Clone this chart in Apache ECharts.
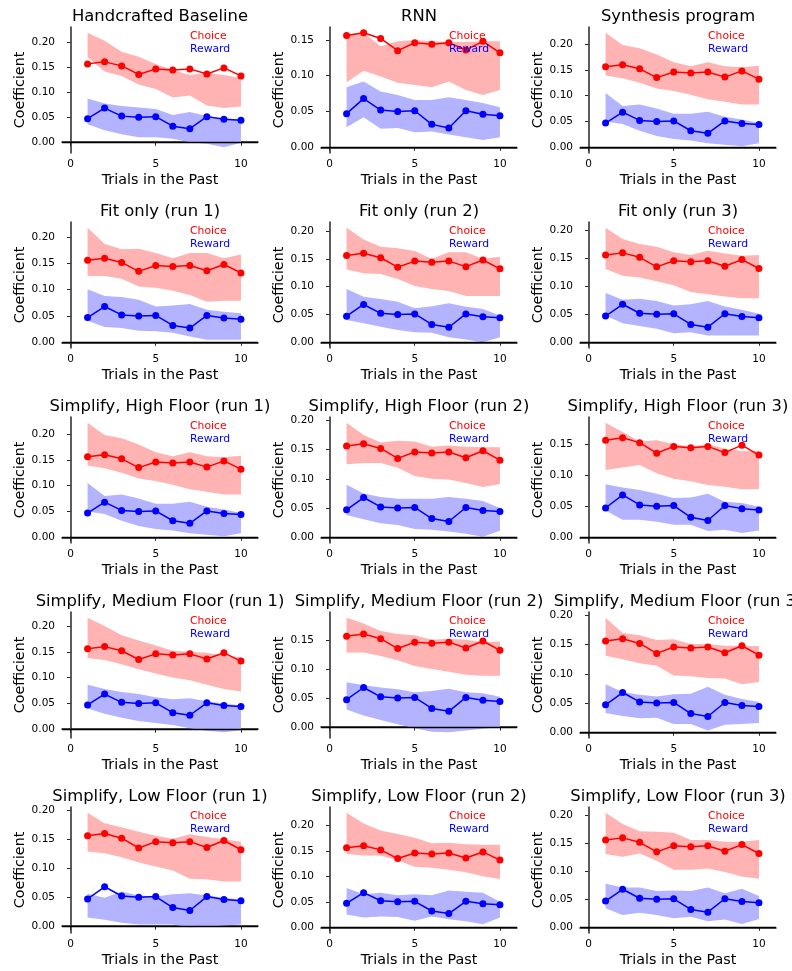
<!DOCTYPE html>
<html>
<head>
<meta charset="utf-8">
<script src="https://cdn.jsdelivr.net/npm/echarts@6.0.0/dist/echarts.min.js"></script>
<style>
  html, body { margin: 0; padding: 0; background: #fff; }
  #chart { width: 792px; height: 971px; }
</style>
</head>
<body>
<div id="chart"></div>
<script>
// x positions (trials in the past)
var trials = [1, 2, 3, 4, 5, 6, 7, 8, 9, 10];

// mean coefficients, same in every panel
var choiceMean = [0.156, 0.160, 0.152, 0.135, 0.146, 0.144, 0.146, 0.136, 0.148, 0.132];
var rewardMean = [0.047, 0.068, 0.052, 0.050, 0.051, 0.032, 0.027, 0.051, 0.046, 0.044];

var panelTitles = [
  'Handcrafted Baseline', 'RNN', 'Synthesis program',
  'Fit only (run 1)', 'Fit only (run 2)', 'Fit only (run 3)',
  'Simplify, High Floor (run 1)', 'Simplify, High Floor (run 2)', 'Simplify, High Floor (run 3)',
  'Simplify, Medium Floor (run 1)', 'Simplify, Medium Floor (run 2)', 'Simplify, Medium Floor (run 3)',
  'Simplify, Low Floor (run 1)', 'Simplify, Low Floor (run 2)', 'Simplify, Low Floor (run 3)'
];

var yTickValues = [0, 0.05, 0.10, 0.15, 0.20];
var xTickValues = [0, 5, 10];

// band edges, one row per panel (same order as panelTitles)
var choiceHi = [
  [0.218, 0.202, 0.180, 0.170, 0.156, 0.144, 0.134, 0.138, 0.134, 0.128],
  [0.158, 0.160, 0.141, 0.148, 0.150, 0.148, 0.147, 0.147, 0.148, 0.148],
  [0.222, 0.198, 0.192, 0.180, 0.165, 0.157, 0.165, 0.157, 0.155, 0.158],
  [0.218, 0.187, 0.177, 0.178, 0.170, 0.160, 0.170, 0.170, 0.160, 0.167],
  [0.206, 0.185, 0.172, 0.169, 0.164, 0.150, 0.162, 0.162, 0.150, 0.154],
  [0.205, 0.185, 0.176, 0.171, 0.161, 0.156, 0.164, 0.159, 0.155, 0.156],
  [0.222, 0.198, 0.192, 0.180, 0.165, 0.157, 0.165, 0.157, 0.155, 0.158],
  [0.196, 0.175, 0.162, 0.165, 0.164, 0.155, 0.157, 0.155, 0.154, 0.154],
  [0.184, 0.169, 0.154, 0.156, 0.150, 0.146, 0.150, 0.142, 0.138, 0.139],
  [0.216, 0.200, 0.182, 0.172, 0.162, 0.152, 0.150, 0.148, 0.142, 0.140],
  [0.188, 0.178, 0.165, 0.160, 0.158, 0.150, 0.152, 0.150, 0.146, 0.147],
  [0.196, 0.170, 0.166, 0.158, 0.159, 0.151, 0.151, 0.148, 0.148, 0.147],
  [0.196, 0.178, 0.171, 0.163, 0.156, 0.151, 0.159, 0.154, 0.150, 0.146],
  [0.225, 0.204, 0.190, 0.183, 0.176, 0.165, 0.166, 0.163, 0.162, 0.162],
  [0.205, 0.185, 0.172, 0.171, 0.169, 0.156, 0.156, 0.153, 0.153, 0.156]
];
var choiceLo = [
  [0.169, 0.141, 0.132, 0.115, 0.106, 0.089, 0.093, 0.073, 0.068, 0.071],
  [0.091, 0.107, 0.099, 0.090, 0.087, 0.084, 0.092, 0.080, 0.073, 0.080],
  [0.139, 0.134, 0.125, 0.114, 0.109, 0.102, 0.093, 0.088, 0.083, 0.083],
  [0.126, 0.126, 0.121, 0.106, 0.104, 0.098, 0.090, 0.077, 0.079, 0.079],
  [0.131, 0.124, 0.123, 0.114, 0.101, 0.096, 0.092, 0.083, 0.083, 0.083],
  [0.131, 0.119, 0.116, 0.109, 0.102, 0.090, 0.086, 0.082, 0.079, 0.079],
  [0.139, 0.134, 0.125, 0.114, 0.109, 0.102, 0.093, 0.088, 0.083, 0.083],
  [0.125, 0.127, 0.127, 0.119, 0.105, 0.100, 0.099, 0.093, 0.086, 0.091],
  [0.108, 0.112, 0.116, 0.103, 0.094, 0.090, 0.084, 0.081, 0.077, 0.077],
  [0.138, 0.134, 0.126, 0.116, 0.108, 0.100, 0.095, 0.086, 0.078, 0.073],
  [0.128, 0.128, 0.122, 0.115, 0.105, 0.100, 0.095, 0.090, 0.088, 0.088],
  [0.131, 0.125, 0.118, 0.114, 0.097, 0.096, 0.093, 0.092, 0.082, 0.086],
  [0.129, 0.126, 0.119, 0.110, 0.103, 0.096, 0.082, 0.081, 0.077, 0.077],
  [0.144, 0.141, 0.141, 0.131, 0.119, 0.117, 0.113, 0.108, 0.100, 0.095],
  [0.131, 0.126, 0.132, 0.119, 0.103, 0.103, 0.105, 0.099, 0.091, 0.087]
];
var rewardHi = [
  [0.087, 0.077, 0.072, 0.069, 0.066, 0.054, 0.060, 0.052, 0.048, 0.045],
  [0.084, 0.092, 0.078, 0.073, 0.066, 0.066, 0.070, 0.066, 0.062, 0.056],
  [0.105, 0.080, 0.083, 0.075, 0.065, 0.065, 0.069, 0.059, 0.054, 0.047],
  [0.101, 0.088, 0.086, 0.081, 0.068, 0.070, 0.073, 0.062, 0.058, 0.055],
  [0.096, 0.082, 0.078, 0.073, 0.061, 0.065, 0.070, 0.064, 0.060, 0.048],
  [0.088, 0.076, 0.078, 0.074, 0.066, 0.068, 0.074, 0.064, 0.058, 0.051],
  [0.105, 0.080, 0.083, 0.075, 0.065, 0.065, 0.069, 0.059, 0.054, 0.047],
  [0.090, 0.075, 0.069, 0.066, 0.066, 0.066, 0.069, 0.066, 0.062, 0.050],
  [0.085, 0.080, 0.076, 0.070, 0.063, 0.064, 0.070, 0.057, 0.055, 0.049],
  [0.086, 0.078, 0.072, 0.068, 0.062, 0.058, 0.060, 0.054, 0.050, 0.046],
  [0.077, 0.072, 0.068, 0.065, 0.060, 0.062, 0.066, 0.060, 0.058, 0.052],
  [0.082, 0.069, 0.064, 0.061, 0.065, 0.066, 0.078, 0.064, 0.057, 0.052],
  [0.056, 0.049, 0.060, 0.053, 0.051, 0.055, 0.057, 0.053, 0.049, 0.046],
  [0.077, 0.065, 0.068, 0.063, 0.065, 0.063, 0.072, 0.070, 0.068, 0.050],
  [0.078, 0.071, 0.071, 0.065, 0.066, 0.065, 0.071, 0.061, 0.069, 0.056]
];
var rewardLo = [
  [0.036, 0.024, 0.016, 0.010, 0.010, 0.007, 0.000, -0.003, -0.010, -0.001],
  [0.028, 0.042, 0.026, 0.027, 0.021, 0.022, 0.018, 0.014, 0.010, 0.014],
  [0.050, 0.045, 0.032, 0.022, 0.016, 0.013, 0.008, 0.005, 0.002, 0.008],
  [0.041, 0.029, 0.027, 0.022, 0.021, 0.018, 0.011, 0.005, 0.005, 0.005],
  [0.040, 0.034, 0.028, 0.022, 0.018, 0.017, 0.009, 0.005, 0.000, 0.009],
  [0.048, 0.034, 0.029, 0.024, 0.016, 0.018, 0.012, 0.012, 0.012, 0.012],
  [0.050, 0.045, 0.032, 0.022, 0.016, 0.013, 0.008, 0.005, 0.002, 0.008],
  [0.038, 0.031, 0.024, 0.021, 0.014, 0.013, 0.010, 0.006, 0.001, 0.011],
  [0.043, 0.028, 0.028, 0.025, 0.020, 0.020, 0.010, 0.012, 0.007, 0.011],
  [0.040, 0.030, 0.022, 0.016, 0.012, 0.008, 0.002, -0.003, -0.006, -0.002],
  [0.030, 0.020, 0.012, 0.005, -0.002, -0.008, -0.009, -0.006, -0.003, 0.000],
  [0.033, 0.028, 0.024, 0.025, 0.014, 0.014, 0.003, 0.013, 0.014, 0.016],
  [0.015, 0.011, 0.006, 0.003, 0.003, 0.003, -0.002, -0.001, 0.001, 0.003],
  [0.025, 0.019, 0.021, 0.020, 0.013, 0.021, 0.016, 0.012, 0.006, 0.019],
  [0.034, 0.022, 0.026, 0.022, 0.016, 0.019, 0.011, 0.014, 0.006, 0.015]
];

var FONT = 'DejaVu Sans';
var SPINE = '#262626';
var COL_LEFT = [62, 321, 580];
var ROW_TOP = [27, 222, 417, 612, 807];
var AX_W = 196;
var AX_H = 126;

// y limits like matplotlib autoscale: data + the zero line, 5% margin
function yRange (p) {
  var all = [0].concat(choiceHi[p], choiceLo[p], rewardHi[p], rewardLo[p], choiceMean, rewardMean);
  var lo = Math.min.apply(null, all);
  var hi = Math.max.apply(null, all);
  var pad = (hi - lo) * 0.05;
  return [lo - pad, hi + pad];
}

function pairs (ys) {
  return trials.map(function (t, i) { return [t, ys[i]]; });
}

// rows [trial, low, high] for a band series
function bandRows (lo, hi) {
  return trials.map(function (t, i) { return [t, lo[i], hi[i]]; });
}

// whole band drawn as one polygon, corners mapped through the axes
function renderBand (color) {
  return function (params, api) {
    if (params.dataIndex !== 0) return null;
    var n = params.dataInsideLength;
    var top = [], bottom = [];
    for (var i = 0; i < n; i++) {
      var row = params.context.rows[i];
      top.push(api.coord([row[0], row[2]]));
      bottom.unshift(api.coord([row[0], row[1]]));
    }
    return {
      type: 'polygon',
      shape: { points: top.concat(bottom) },
      style: { fill: color, stroke: null }
    };
  };
}

function bandSeries (p, name, lo, hi, color) {
  var rows = bandRows(lo, hi);
  var render = renderBand(color);
  return {
    type: 'custom', name: name, xAxisIndex: p, yAxisIndex: p,
    silent: true, animation: false, z: 1,
    encode: { x: 0, y: [1, 2] },
    data: rows,
    renderItem: function (params, api) {
      params.context.rows = rows;
      return render(params, api);
    }
  };
}

var grids = [], xAxes = [], yAxes = [], series = [], legends = [], titles = [];

panelTitles.forEach(function (title, p) {
  var r = Math.floor(p / 3);
  var c = p % 3;
  var left = COL_LEFT[c];
  var top = ROW_TOP[r];
  var yr = yRange(p);
  var yTicks = yTickValues.filter(function (v) { return v >= yr[0] && v <= yr[1]; });

  grids.push({ left: left, top: top, width: AX_W, height: AX_H });

  xAxes.push({
    gridIndex: p, type: 'value', min: -0.5, max: 11,
    name: 'Trials in the Past', nameLocation: 'middle', nameGap: 20,
    nameTextStyle: { fontFamily: FONT, fontSize: 14.3, color: '#000' },
    axisLine: { show: true, lineStyle: { color: SPINE, width: 1.5 } },
    axisTick: { show: true, length: 3.5, customValues: xTickValues, lineStyle: { color: SPINE, width: 1 } },
    axisLabel: { customValues: xTickValues, fontFamily: FONT, fontSize: 10.5, color: '#000', margin: 6 },
    splitLine: { show: false }
  });

  yAxes.push({
    gridIndex: p, type: 'value', min: yr[0], max: yr[1],
    name: 'Coefficient', nameLocation: 'middle', nameGap: 34,
    nameTextStyle: { fontFamily: FONT, fontSize: 14.3, color: '#000' },
    axisLine: { show: true, lineStyle: { color: SPINE, width: 1.5 } },
    axisTick: { show: true, length: 3.5, customValues: yTicks, lineStyle: { color: SPINE, width: 1 } },
    axisLabel: {
      customValues: yTicks, fontFamily: FONT, fontSize: 10.5, color: '#000', margin: 7,
      formatter: function (v) { return v.toFixed(2); }
    },
    splitLine: { show: false }
  });

  // shaded bands
  series.push(bandSeries(p, 'choiceBand', choiceLo[p], choiceHi[p], '#ffb3b3'));
  series.push(bandSeries(p, 'rewardBand', rewardLo[p], rewardHi[p], '#b3b3ff'));

  // mean lines
  var base = { xAxisIndex: p, yAxisIndex: p, type: 'line', silent: true, animation: false };
  series.push(Object.assign({}, base, {
    name: 'Choice', symbol: 'circle', symbolSize: 7, z: 3,
    itemStyle: { color: '#ff0000' }, lineStyle: { color: '#ff0000', width: 1.5 },
    data: pairs(choiceMean),
    markLine: {
      silent: true, symbol: 'none', animation: false, label: { show: false },
      lineStyle: { color: '#000', width: 1.3, type: 'solid' },
      data: [{ yAxis: 0 }]
    }
  }));
  series.push(Object.assign({}, base, {
    name: 'Reward', symbol: 'circle', symbolSize: 7, z: 3,
    itemStyle: { color: '#0000ff' }, lineStyle: { color: '#0000ff', width: 1.5 },
    data: pairs(rewardMean)
  }));

  legends.push({
    left: left + 123, top: top + 3, orient: 'vertical', padding: 0,
    itemGap: 0, itemWidth: 0, itemHeight: 0, selectedMode: false,
    textStyle: { fontFamily: FONT, fontSize: 10.8, lineHeight: 13 },
    data: [
      { name: 'Choice', icon: 'none', textStyle: { color: '#ff0000' } },
      { name: 'Reward', icon: 'none', textStyle: { color: '#0000ff' } }
    ]
  });

  titles.push({
    type: 'text', x: left + AX_W / 2, y: top - 10, silent: true,
    style: { text: title, fill: '#000', font: '16.4px "DejaVu Sans"', align: 'center', verticalAlign: 'middle' }
  });
});

var chart = echarts.init(document.getElementById('chart'));
chart.setOption({
  backgroundColor: '#fff',
  animation: false,
  grid: grids,
  xAxis: xAxes,
  yAxis: yAxes,
  legend: legends,
  series: series,
  graphic: titles
});
</script>
</body>
</html>
